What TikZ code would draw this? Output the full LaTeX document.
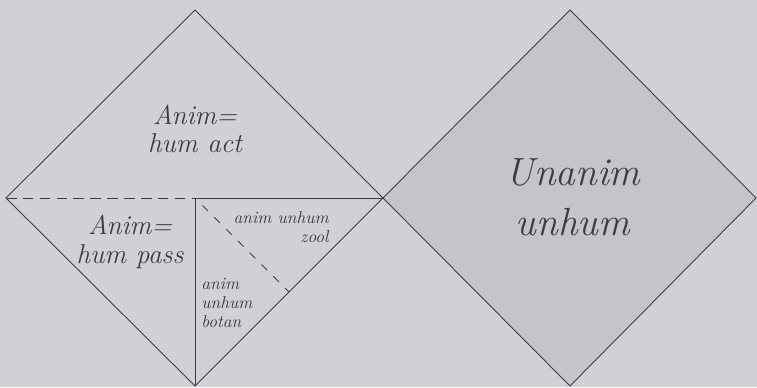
\documentclass[tikz,border=0pt]{standalone}
\usepackage{tikz}
\usetikzlibrary{calc, positioning}
\definecolor{paperGrey}{RGB}{208,208,214}
\definecolor{shadeGrey}{RGB}{196,196,201}
\definecolor{inkGrey}{RGB}{60,60,66}
\definecolor{textGrey}{RGB}{60,60,66}
\tikzset{
    edge/.style={draw=inkGrey, line width=0.5pt},
    dedge/.style={draw=inkGrey, line width=0.5pt, dash pattern=on 6pt off 3.6pt},
    ddiag/.style={draw=inkGrey, line width=0.5pt, dash pattern=on 4.5pt off 5pt},
    lblbig/.style={font=\itshape\fontsize{15.5}{16.4}\selectfont, text=textGrey, align=center, inner sep=0pt},
    lblsmall/.style={font=\itshape\fontsize{9.8}{11}\selectfont, text=textGrey, inner sep=0pt},
    lblhuge/.style={font=\itshape\fontsize{22.4}{28.4}\selectfont, text=textGrey, align=center, inner sep=0pt}
}

\begin{document}
\begin{tikzpicture}[x=0.2mm, y=0.2mm]
    \fill[paperGrey] (0,0) rectangle (757,387);
    \useasboundingbox (0,0) rectangle (757,387);

    % corners of the two squares
    \coordinate (lt) at (195,377);
    \coordinate (ll) at (6,189);
    \coordinate (lc) at (195,189);
    \coordinate (lr) at (383,189);
    \coordinate (lb) at (195,1);
    \coordinate (rt) at (570,377);
    \coordinate (rr) at (756,189);
    \coordinate (rb) at (570,1);
    \coordinate (lm) at ($(lr)!0.5!(lb)$);

    \fill[shadeGrey] (lr) -- (rt) -- (rr) -- (rb) -- cycle;
    \draw[edge] (lr) -- (rt) -- (rr) -- (rb) -- cycle;
    \draw[edge] (ll) -- (lt) -- (lr) -- (lb) -- cycle;

    \draw[dedge] (ll) -- (lc);
    \draw[edge] (lc) -- (lr);
    \draw[edge] (lc) -- (lb);
    \draw[ddiag] ($(lc)!0.08!(lm)$) -- (lm);

    \node[lblbig] (act) at (195,258) {Anim=\\hum act};
    \node[lblbig] (pass) at (130,145) {Anim=\\hum pass};
    \node[lblsmall, align=right, anchor=east] (zool) at (329,160) {anim unhum\\zool};
    \node[lblsmall, align=left, anchor=west] (botan) at (201,84) {anim\\unhum\\botan};
    \node[lblhuge] (unanim) at (573,190) {Unanim\\unhum};
\end{tikzpicture}
\end{document}
